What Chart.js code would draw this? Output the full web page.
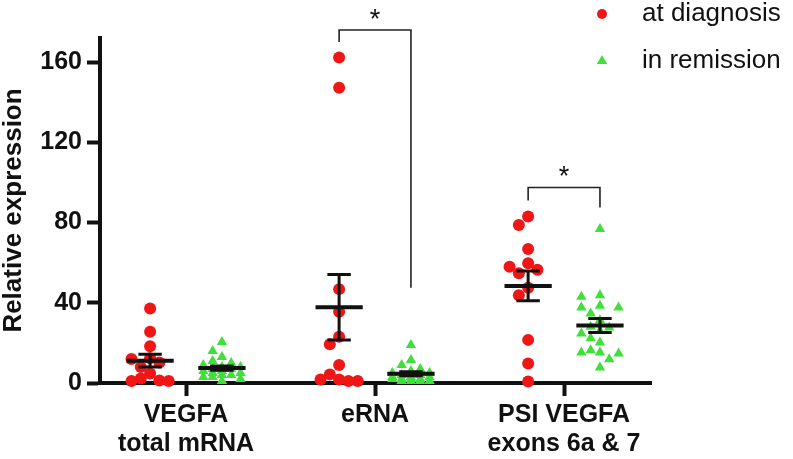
<!DOCTYPE html>
<html>
<head>
<meta charset="utf-8">
<script src="https://cdn.jsdelivr.net/npm/chart.js@4"></script>
<style>
  body { margin: 0; background: #fff; }
  #wrap { width: 793px; height: 459px; }
</style>
</head>
<body>
<div id="wrap"><canvas id="grafico"></canvas></div>
<script>
// categorias del eje X (multilinea)
const categories = [['VEGFA', 'total mRNA'], ['eRNA'], ['PSI VEGFA', 'exons 6a & 7']];
const yTicks = [0, 40, 80, 120, 160];

// valores - at diagnosis
const diagnosisVegfa = [37.2, 25.5, 18.3, 12.3, 12, 10.2, 8, 4.7, 1, 1.3, 2.3, 1];
const diagnosisErna = [162.3, 147.2, 46.8, 35.5, 23, 19.3, 9, 4.3, 1, 1.8, 1.8, 1];
const diagnosisPsi = [83, 78.8, 66.8, 59.7, 56.5, 54.7, 58, 47.5, 43.8, 21.5, 9.7, 0.7];

// in remission
const remissionVegfa = [20.5, 16, 13, 11, 10, 9, 8, 8, 7, 7, 6, 6, 5, 5, 4, 4, 3, 3, 2, 1];
const remissionErna = [19, 11.5, 9, 7, 6, 5, 5, 4, 4, 3, 3, 3, 2, 2, 2, 2, 1, 1, 1, 1];
const remissionPsi = [76.8, 43.8, 43, 37.7, 38.5, 37.7, 34.7, 31.3, 27.7, 28, 26, 24.7, 22.3, 20.2, 16.3, 14.7, 15.2, 15.2, 11.8, 7.7];

// comparaciones significativas (grupo, altura del corchete, fin de cada pata)
const comparisons = [
    { group: 2, top: 176, leftEnd: 170, rightEnd: 47.5, text: '*' },
    { group: 3, top: 97.5, leftEnd: 91, rightEnd: 87.5, text: '*' }
];

const series = [
    { label: 'at diagnosis', color: '#f01616', style: 'circle', radius: 6, side: -1, groups: [diagnosisVegfa, diagnosisErna, diagnosisPsi], step: 9.3, minDist: 10 },
    { label: 'in remission', color: '#3fe03a', style: 'triangle', radius: 6, side: 1, groups: [remissionVegfa, remissionErna, remissionPsi], step: 9.3, minDist: 9.5 }
];

const FONT = '"Liberation Sans", Arial, sans-serif';
const SIDE = 0.19;      // separacion de cada serie respecto al tick
const PX_PER_Y = 2;     // aprox, solo para repartir los puntos (beeswarm)
const PX_PER_X = 189;
const MAX_K = 2;        // como mucho 2 columnas a cada lado

// reparto tipo beeswarm; si no cabe, el hueco con menos solape
function swarm(values, step, minDist) {
    const order = values.map((v, i) => i).sort((a, b) => values[b] - values[a]);
    const placed = [];
    const offs = new Array(values.length).fill(0);
    order.forEach(i => {
        const y = values[i] * PX_PER_Y;
        let best = 0, bestD = -1;
        for (let k = 0; k <= MAX_K * 2; k++) {
            const x = (k % 2 ? -1 : 1) * Math.ceil(k / 2) * step;
            const d = placed.reduce((m, p) => Math.min(m, Math.hypot(p.x - x, p.y - y)), Infinity);
            if (d >= minDist) { best = x; bestD = d; break; }
            if (d > bestD) { best = x; bestD = d; }
        }
        placed.push({ x: best, y: y });
        offs[i] = best / PX_PER_X;
    });
    return offs;
}

const datasets = series.map(s => {
    const data = [];
    s.groups.forEach((vals, g) => {
        const offs = swarm(vals, s.step, s.minDist);
        vals.forEach((v, i) => data.push({ x: g + 1 + s.side * SIDE + offs[i], y: v }));
    });
    return {
        label: s.label,
        data: data,
        pointStyle: s.style,
        pointRadius: s.radius,
        pointBackgroundColor: s.color,
        pointBorderWidth: 0,
        showLine: false,
        clip: false
    };
});

function mean(a) { return a.reduce((t, v) => t + v, 0) / a.length; }
function sem(a) {
    const m = mean(a);
    const sd = Math.sqrt(a.reduce((t, v) => t + (v - m) * (v - m), 0) / (a.length - 1));
    return sd / Math.sqrt(a.length);
}

// media +- SEM encima de los puntos
const meanSemPlugin = {
    id: 'meanSem',
    afterDatasetsDraw(chart) {
        const ctx = chart.ctx, xs = chart.scales.x, ys = chart.scales.y;
        ctx.save();
        ctx.strokeStyle = '#111';
        series.forEach(s => {
            s.groups.forEach((vals, g) => {
                const cx = g + 1 + s.side * SIDE;
                const m = mean(vals), e = sem(vals);
                const yM = ys.getPixelForValue(m);
                const yT = ys.getPixelForValue(m + e);
                const yB = ys.getPixelForValue(m - e);
                ctx.lineWidth = 3;
                ctx.beginPath();
                ctx.moveTo(xs.getPixelForValue(cx), yT);
                ctx.lineTo(xs.getPixelForValue(cx), yB);
                ctx.moveTo(xs.getPixelForValue(cx - 0.062), yT);
                ctx.lineTo(xs.getPixelForValue(cx + 0.062), yT);
                ctx.moveTo(xs.getPixelForValue(cx - 0.062), yB);
                ctx.lineTo(xs.getPixelForValue(cx + 0.062), yB);
                ctx.stroke();
                ctx.lineWidth = 4;
                ctx.beginPath();
                ctx.moveTo(xs.getPixelForValue(cx - 0.125), yM);
                ctx.lineTo(xs.getPixelForValue(cx + 0.125), yM);
                ctx.stroke();
            });
        });
        ctx.restore();
    }
};

// corchetes de significacion y leyenda
const extrasPlugin = {
    id: 'extras',
    afterDraw(chart) {
        const ctx = chart.ctx, xs = chart.scales.x, ys = chart.scales.y;
        ctx.save();
        ctx.strokeStyle = '#222';
        ctx.fillStyle = '#111';
        ctx.lineWidth = 1.6;
        comparisons.forEach(c => {
            const xl = xs.getPixelForValue(c.group - SIDE);
            const xr = xs.getPixelForValue(c.group + SIDE);
            const yt = ys.getPixelForValue(c.top);
            ctx.beginPath();
            ctx.moveTo(xl, ys.getPixelForValue(c.leftEnd));
            ctx.lineTo(xl, yt);
            ctx.lineTo(xr, yt);
            ctx.lineTo(xr, ys.getPixelForValue(c.rightEnd));
            ctx.stroke();
            ctx.font = '27px ' + FONT;
            ctx.textAlign = 'center';
            ctx.textBaseline = 'alphabetic';
            ctx.fillText(c.text, (xl + xr) / 2, yt - 2);
        });

        // leyenda arriba a la derecha
        ctx.textAlign = 'left';
        ctx.font = '26px ' + FONT;
        series.forEach((s, i) => {
            const y = 14 + i * 47;
            ctx.fillStyle = s.color;
            Chart.helpers.drawPoint(ctx, { pointStyle: s.style, radius: s.style === 'circle' ? 5 : 6, rotation: 0, borderWidth: 0 }, 602, y);
            ctx.fillStyle = '#111';
            ctx.fillText(s.label, 642, y + 7);
        });
        ctx.restore();
    }
};

const ctx = document.getElementById('grafico').getContext('2d');

new Chart(ctx, {
    type: 'scatter',
    data: { datasets: datasets },
    options: {
        animation: false,
        responsive: true,
        maintainAspectRatio: false,
        devicePixelRatio: 1,
        layout: { padding: { top: 38, right: 142, left: 0, bottom: 0 } },
        plugins: {
            legend: { display: false },
            tooltip: { enabled: false }
        },
        scales: {
            x: {
                type: 'linear',
                min: 0.545,
                max: 3.46,
                border: { display: true, color: '#111', width: 4 },
                grid: { drawOnChartArea: false, drawTicks: true, tickLength: 13, tickWidth: 4, tickColor: '#111' },
                afterBuildTicks: scale => { scale.ticks = categories.map((c, i) => ({ value: i + 1 })); },
                afterFit: scale => { scale.height = 76; },
                ticks: {
                    autoSkip: false,
                    maxRotation: 0,
                    padding: 5,
                    color: '#111',
                    font: { family: FONT, size: 25, weight: 'bold', lineHeight: 1.15 },
                    callback: value => categories[Math.round(value) - 1]
                }
            },
            y: {
                min: 0,
                max: 172,
                border: { display: true, color: '#111', width: 4 },
                grid: { drawOnChartArea: false, drawTicks: true, tickLength: 13, tickWidth: 4, tickColor: '#111' },
                afterBuildTicks: scale => { scale.ticks = yTicks.map(v => ({ value: v })); },
                afterFit: scale => { scale.width = 100; },
                ticks: {
                    padding: 5,
                    color: '#111',
                    font: { family: FONT, size: 25, weight: 'bold' }
                },
                title: {
                    display: true,
                    text: 'Relative expression',
                    color: '#111',
                    padding: 0,
                    font: { family: FONT, size: 26, weight: 'bold', lineHeight: 1.1 }
                }
            }
        }
    },
    plugins: [meanSemPlugin, extrasPlugin]
});
</script>
</body>
</html>
